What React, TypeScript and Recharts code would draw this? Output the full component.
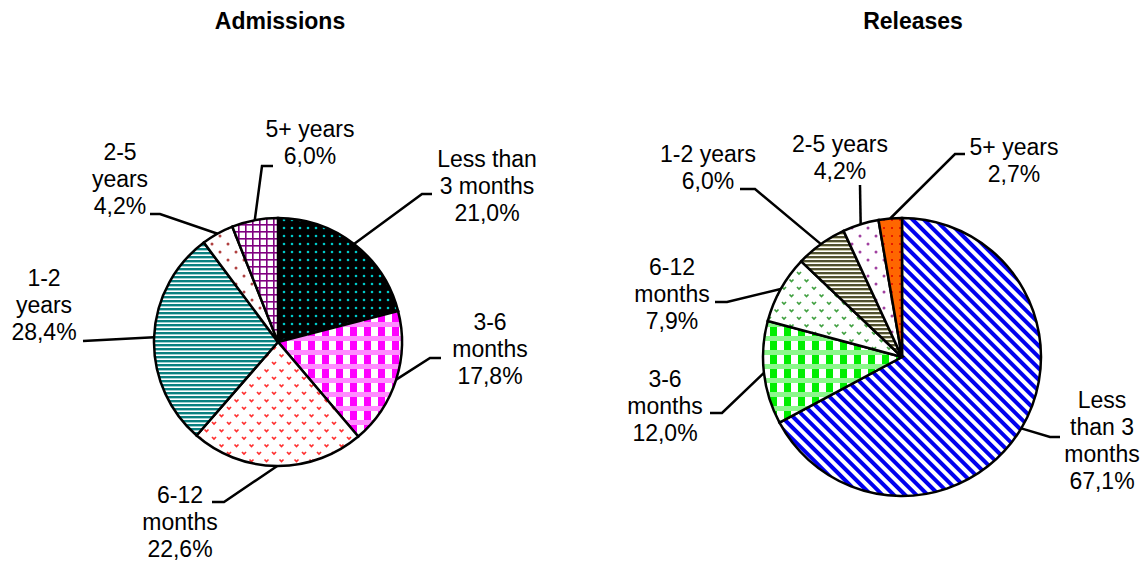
import React from 'react';
import { PieChart, Pie, Cell } from 'recharts';

const categories = [
  'Less than 3 months',
  '3-6 months',
  '6-12 months',
  '1-2 years',
  '2-5 years',
  '5+ years',
];
const admissions = [21.0, 17.8, 22.6, 28.4, 4.2, 6.0];
const releases = [67.1, 12.0, 7.9, 6.0, 4.2, 2.7];

const admissionsFills = ['adm-lt3', 'adm-3to6', 'adm-6to12', 'adm-1to2', 'adm-2to5', 'adm-5plus'];
const releasesFills = ['rel-lt3', 'rel-3to6', 'rel-6to12', 'rel-1to2', 'rel-2to5', 'rel-5plus'];

type Spot = {
  x: number; // text centre
  y: number; // baseline of first line
  wrap: number; // max chars per line for the category name
  elbow?: [number, number];
  end: [number, number];
};

// label placement, leader line runs edge -> elbow -> end
const admissionsSpots: Spot[] = [
  { x: 487, y: 167, wrap: 9, elbow: [422, 194], end: [432, 194] },
  { x: 490, y: 330, wrap: 6, elbow: [430, 358], end: [441, 358] },
  { x: 180, y: 503, wrap: 6, elbow: [224, 502], end: [212, 502] },
  { x: 44, y: 286, wrap: 5, end: [83, 341] },
  { x: 120, y: 160, wrap: 5, elbow: [160, 214], end: [150, 214] },
  { x: 310, y: 137, wrap: 9, elbow: [262, 166], end: [273, 166] },
];
const releasesSpots: Spot[] = [
  { x: 1102, y: 408, wrap: 6, elbow: [1050, 437], end: [1060, 437] },
  { x: 665, y: 387, wrap: 6, elbow: [722, 413], end: [710, 413] },
  { x: 672, y: 275, wrap: 6, elbow: [727, 302], end: [715, 302] },
  { x: 708, y: 162, wrap: 9, elbow: [755, 189], end: [740, 189] },
  { x: 840, y: 152, wrap: 9, end: [860, 185] },
  { x: 1014, y: 155, wrap: 9, elbow: [955, 154], end: [965, 154] },
];

const FONT = '"Liberation Sans", Arial, sans-serif';
const LINE_H = 27;
const RAD = Math.PI / 180;

const fmt = (v: number) => v.toFixed(1).replace('.', ',') + '%';

function wrapWords(text: string, width: number) {
  const out: string[] = [];
  let line = '';
  for (const w of text.split(' ')) {
    const next = line ? line + ' ' + w : w;
    if (next.length > width && line) {
      out.push(line);
      line = w;
    } else {
      line = next;
    }
  }
  if (line) out.push(line);
  return out;
}

function makeLabel(values: number[], spots: Spot[]) {
  return (props: any) => {
    const { cx, cy, midAngle, outerRadius, index } = props;
    const spot = spots[index];
    const sx = cx + outerRadius * Math.cos(-midAngle * RAD);
    const sy = cy + outerRadius * Math.sin(-midAngle * RAD);
    const pts: number[][] = [[sx, sy]];
    if (spot.elbow) pts.push(spot.elbow);
    pts.push(spot.end);
    const lines = [...wrapWords(categories[index], spot.wrap), fmt(values[index])];
    return (
      <g key={`lbl-${index}`}>
        <polyline
          points={pts.map((p) => p.join(',')).join(' ')}
          fill="none"
          stroke="#000"
          strokeWidth={2.5}
        />
        <text x={spot.x} y={spot.y} textAnchor="middle" fontSize={23} fontFamily={FONT} fill="#000">
          {lines.map((l, i) => (
            <tspan key={i} x={spot.x} dy={i === 0 ? 0 : LINE_H}>
              {l}
            </tspan>
          ))}
        </text>
      </g>
    );
  };
}

// hatch fills, Excel style
const Plaid = ({ id, color }: { id: string; color: string }) => (
  <pattern id={id} width={14} height={14} patternUnits="userSpaceOnUse">
    <rect width={14} height={14} fill="#fff" />
    <rect width={14} height={5} fill={color} opacity={0.45} />
    <rect y={5} width={7} height={9} fill={color} />
  </pattern>
);

const Chevrons = ({ id, color }: { id: string; color: string }) => (
  <pattern id={id} width={15} height={15} patternUnits="userSpaceOnUse">
    <rect width={15} height={15} fill="#fff" />
    <path d="M2 2 l2 2 l2 -2" stroke={color} strokeWidth={1.7} fill="none" />
    <path d="M9.5 9.5 l2 2 l2 -2" stroke={color} strokeWidth={1.7} fill="none" />
  </pattern>
);

const Stripes = ({ id, dark, light }: { id: string; dark: string; light: string }) => (
  <pattern id={id} width={4} height={4} patternUnits="userSpaceOnUse">
    <rect width={4} height={4} fill="#fff" />
    <rect width={4} height={2} fill={dark} />
    <rect y={2} width={4} height={1} fill={light} />
  </pattern>
);

const SparseDots = ({ id, color }: { id: string; color: string }) => (
  <pattern id={id} width={16} height={16} patternUnits="userSpaceOnUse">
    <rect width={16} height={16} fill="#fff" />
    <circle cx={4} cy={4} r={1.5} fill={color} />
    <circle cx={12} cy={12} r={1.5} fill={color} />
  </pattern>
);

const Patterns = () => (
  <svg width={0} height={0} style={{ position: 'absolute' }}>
    <defs>
      <pattern id="adm-lt3" width={8} height={8} patternUnits="userSpaceOnUse">
        <rect width={8} height={8} fill="#000" />
        <circle cx={4} cy={4} r={1.3} fill="#00c8c8" />
      </pattern>
      <Plaid id="adm-3to6" color="#ff00ff" />
      <Chevrons id="adm-6to12" color="#ff3030" />
      <Stripes id="adm-1to2" dark="#0a8080" light="#9fd0d0" />
      <SparseDots id="adm-2to5" color="#b04040" />
      <pattern id="adm-5plus" width={7} height={7} patternUnits="userSpaceOnUse">
        <rect width={7} height={7} fill="#fff" />
        <rect width={7} height={1.6} fill="#800080" />
        <rect width={1.6} height={7} fill="#800080" />
      </pattern>

      <pattern id="rel-lt3" width={8} height={8} patternUnits="userSpaceOnUse" patternTransform="rotate(-45)">
        <rect width={8} height={8} fill="#fff" />
        <rect width={4} height={8} fill="#0000ee" />
      </pattern>
      <Plaid id="rel-3to6" color="#00ee00" />
      <Chevrons id="rel-6to12" color="#40a040" />
      <Stripes id="rel-1to2" dark="#505030" light="#c8c8a8" />
      <SparseDots id="rel-2to5" color="#a040a0" />
      <pattern id="rel-5plus" width={8} height={8} patternUnits="userSpaceOnUse">
        <rect width={8} height={8} fill="#ff6600" />
        <circle cx={4} cy={4} r={1} fill="#dd0000" />
      </pattern>
    </defs>
  </svg>
);

const admissionsData = categories.map((name, i) => ({ name, value: admissions[i] }));
const releasesData = categories.map((name, i) => ({ name, value: releases[i] }));

const titleStyle: React.CSSProperties = {
  position: 'absolute',
  top: 8,
  width: 300,
  textAlign: 'center',
  fontFamily: FONT,
  fontWeight: 'bold',
  fontSize: 23,
  lineHeight: '26px',
};

export default function App() {
  return (
    <div style={{ position: 'absolute', left: 0, top: 0, width: 1143, height: 563, background: '#fff' }}>
      <Patterns />
      <div style={{ ...titleStyle, left: 280 - 150 }}>Admissions</div>
      <div style={{ ...titleStyle, left: 913 - 150 }}>Releases</div>
      <PieChart width={1143} height={563} margin={{ top: 0, right: 0, bottom: 0, left: 0 }}>
        <Pie
          data={admissionsData}
          dataKey="value"
          nameKey="name"
          cx={278}
          cy={342}
          outerRadius={124}
          startAngle={90}
          endAngle={-270}
          stroke="#000"
          strokeWidth={2.5}
          labelLine={false}
          label={makeLabel(admissions, admissionsSpots)}
          isAnimationActive={false}
        >
          {admissionsData.map((d, i) => (
            <Cell key={d.name} fill={`url(#${admissionsFills[i]})`} />
          ))}
        </Pie>
        <Pie
          data={releasesData}
          dataKey="value"
          nameKey="name"
          cx={902}
          cy={357}
          outerRadius={139}
          startAngle={90}
          endAngle={-270}
          stroke="#000"
          strokeWidth={2.5}
          labelLine={false}
          label={makeLabel(releases, releasesSpots)}
          isAnimationActive={false}
        >
          {releasesData.map((d, i) => (
            <Cell key={d.name} fill={`url(#${releasesFills[i]})`} />
          ))}
        </Pie>
      </PieChart>
    </div>
  );
}
